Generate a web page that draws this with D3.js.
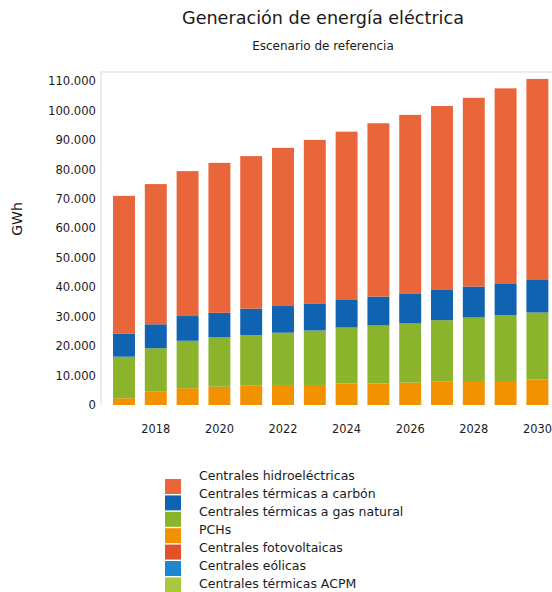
<!DOCTYPE html>
<html>
<head>
<meta charset="utf-8">
<script src="https://cdn.jsdelivr.net/npm/d3@7"></script>
<style>
  body { margin:0; background:#ffffff; }
  svg text { font-family: "DejaVu Sans", "Open Sans", sans-serif; fill:#1a1a1a; }
</style>
</head>
<body>
<svg></svg>
<script>
// years on the x axis
var years = [2017,2018,2019,2020,2021,2022,2023,2024,2025,2026,2027,2028,2029,2030];
var yearTicks = [2018,2020,2022,2024,2026,2028,2030];

// GWh per source
var pchs     = [2300,4500,5700,6200,6550,6800,6800,7350,7350,7600,7900,8150,8150,8700];
var gasNat   = [14100,14750,16100,16800,17200,17750,18500,18950,19650,20100,20900,21550,22350,22700];
var carbon   = [7900,8150,8400,8300,8950,9050,9200,9350,9800,10200,10250,10500,10800,11050];
var hidro    = [46700,47600,49200,50900,51800,53700,55500,57150,58850,60600,62450,64100,66200,68250];
var solar    = [0,0,0,0,0,0,0,0,0,0,0,0,0,0];
var eolicas  = [0,0,0,0,0,0,0,0,0,0,0,0,0,0];
var acpm     = [0,0,0,0,0,0,0,0,0,0,0,0,0,0];

var yTicks = [0,10000,20000,30000,40000,50000,60000,70000,80000,90000,100000,110000];

// legend order (top to bottom)
var legendNames = ["Centrales hidroeléctricas","Centrales térmicas a carbón","Centrales térmicas a gas natural",
                   "PCHs","Centrales fotovoltaicas","Centrales eólicas","Centrales térmicas ACPM"];
var legendValues = [hidro,carbon,gasNat,pchs,solar,eolicas,acpm];
var legendColors = ["#e9663a","#0f63b0","#8bb42c","#f39200","#e2502a","#1e86d0","#a9c83c"];

// stacking order (bottom to top)
var stackOrder = [3,2,1,0,4,5,6];

var drawGraph = function()
{
  var screen = {width:552, height:592};

  var svg = d3.select("svg")
              .attr("width",screen.width)
              .attr("height",screen.height);

  var plot = {left:101, right:552, top:72, zero:405};

  var rows = years.map(function(y,i)
  {
    var row = {year:y};
    legendNames.forEach(function(n,k) {row[n] = legendValues[k][i];});
    return row;
  });

  var stack = d3.stack()
                .keys(stackOrder.map(function(k) {return legendNames[k];}));
  var series = stack(rows);

  var xScale = d3.scaleBand()
                 .domain(years)
                 .range([108.1,553.3])
                 .paddingInner(0.31)
                 .paddingOuter(0.155);

  var yScale = d3.scaleLinear()
                 .domain([0,110000])
                 .range([plot.zero,81]);

  var colors = d3.scaleOrdinal()
                 .domain(legendNames)
                 .range(legendColors);

  // faint frame
  svg.append("path")
     .attr("d","M"+plot.left+","+plot.zero+"V"+plot.top+"H"+plot.right)
     .attr("fill","none")
     .attr("stroke","#e4e6ea")
     .attr("stroke-width",1.5);

  // bars
  var layers = svg.append("g")
                  .classed("bars",true)
                  .selectAll("g")
                  .data(series)
                  .enter()
                  .append("g")
                  .attr("fill",function(d) {return colors(d.key);});

  layers.selectAll("rect")
        .data(function(d) {return d;})
        .enter()
        .append("rect")
        .attr("x",function(d) {return xScale(d.data.year);})
        .attr("y",function(d) {return yScale(d[1]);})
        .attr("width",xScale.bandwidth())
        .attr("height",function(d) {return yScale(d[0]) - yScale(d[1]);});

  // y axis
  var yAxis = d3.axisLeft(yScale)
                .tickValues(yTicks)
                .tickSize(0)
                .tickPadding(5)
                .tickFormat(function(d) {return d3.format(",")(d).replace(/,/g,".");});

  var yG = svg.append("g")
              .attr("transform","translate("+plot.left+",0)")
              .call(yAxis);
  yG.select(".domain").remove();
  yG.selectAll("text").attr("font-size",11.6).style("font-family","'DejaVu Sans', sans-serif");

  // x axis
  var xAxis = d3.axisBottom(xScale)
                .tickValues(yearTicks)
                .tickSize(0)
                .tickPadding(20);

  var xG = svg.append("g")
              .attr("transform","translate(0,"+plot.zero+")")
              .call(xAxis);
  xG.select(".domain").remove();
  xG.selectAll("text").attr("font-size",11.4).style("font-family","'DejaVu Sans', sans-serif");

  // titles
  svg.append("text")
     .attr("x",323)
     .attr("y",24)
     .attr("text-anchor","middle")
     .attr("font-size",17.6)
     .text("Generación de energía eléctrica");

  svg.append("text")
     .attr("x",323)
     .attr("y",50)
     .attr("text-anchor","middle")
     .attr("font-size",12)
     .text("Escenario de referencia");

  svg.append("text")
     .attr("transform","translate(22,219) rotate(-90)")
     .attr("text-anchor","middle")
     .attr("font-size",14)
     .text("GWh");

  // legend
  var legend = svg.append("g")
                  .classed("legend",true)
                  .attr("transform","translate(165,0)");

  var legendLines = legend.selectAll("g")
                          .data(legendNames)
                          .enter()
                          .append("g");

  legendLines.append("rect")
             .attr("x",0)
             .attr("y",function(d,i) {return 479 + i*16.4;})
             .attr("width",16)
             .attr("height",15)
             .attr("fill",function(d) {return colors(d);});

  legendLines.append("text")
             .attr("x",34)
             .attr("y",function(d,i) {return 479.5 + i*18;})
             .attr("font-size",12.5)
             .text(function(d) {return d;});
};

drawGraph();
</script>
</body>
</html>
